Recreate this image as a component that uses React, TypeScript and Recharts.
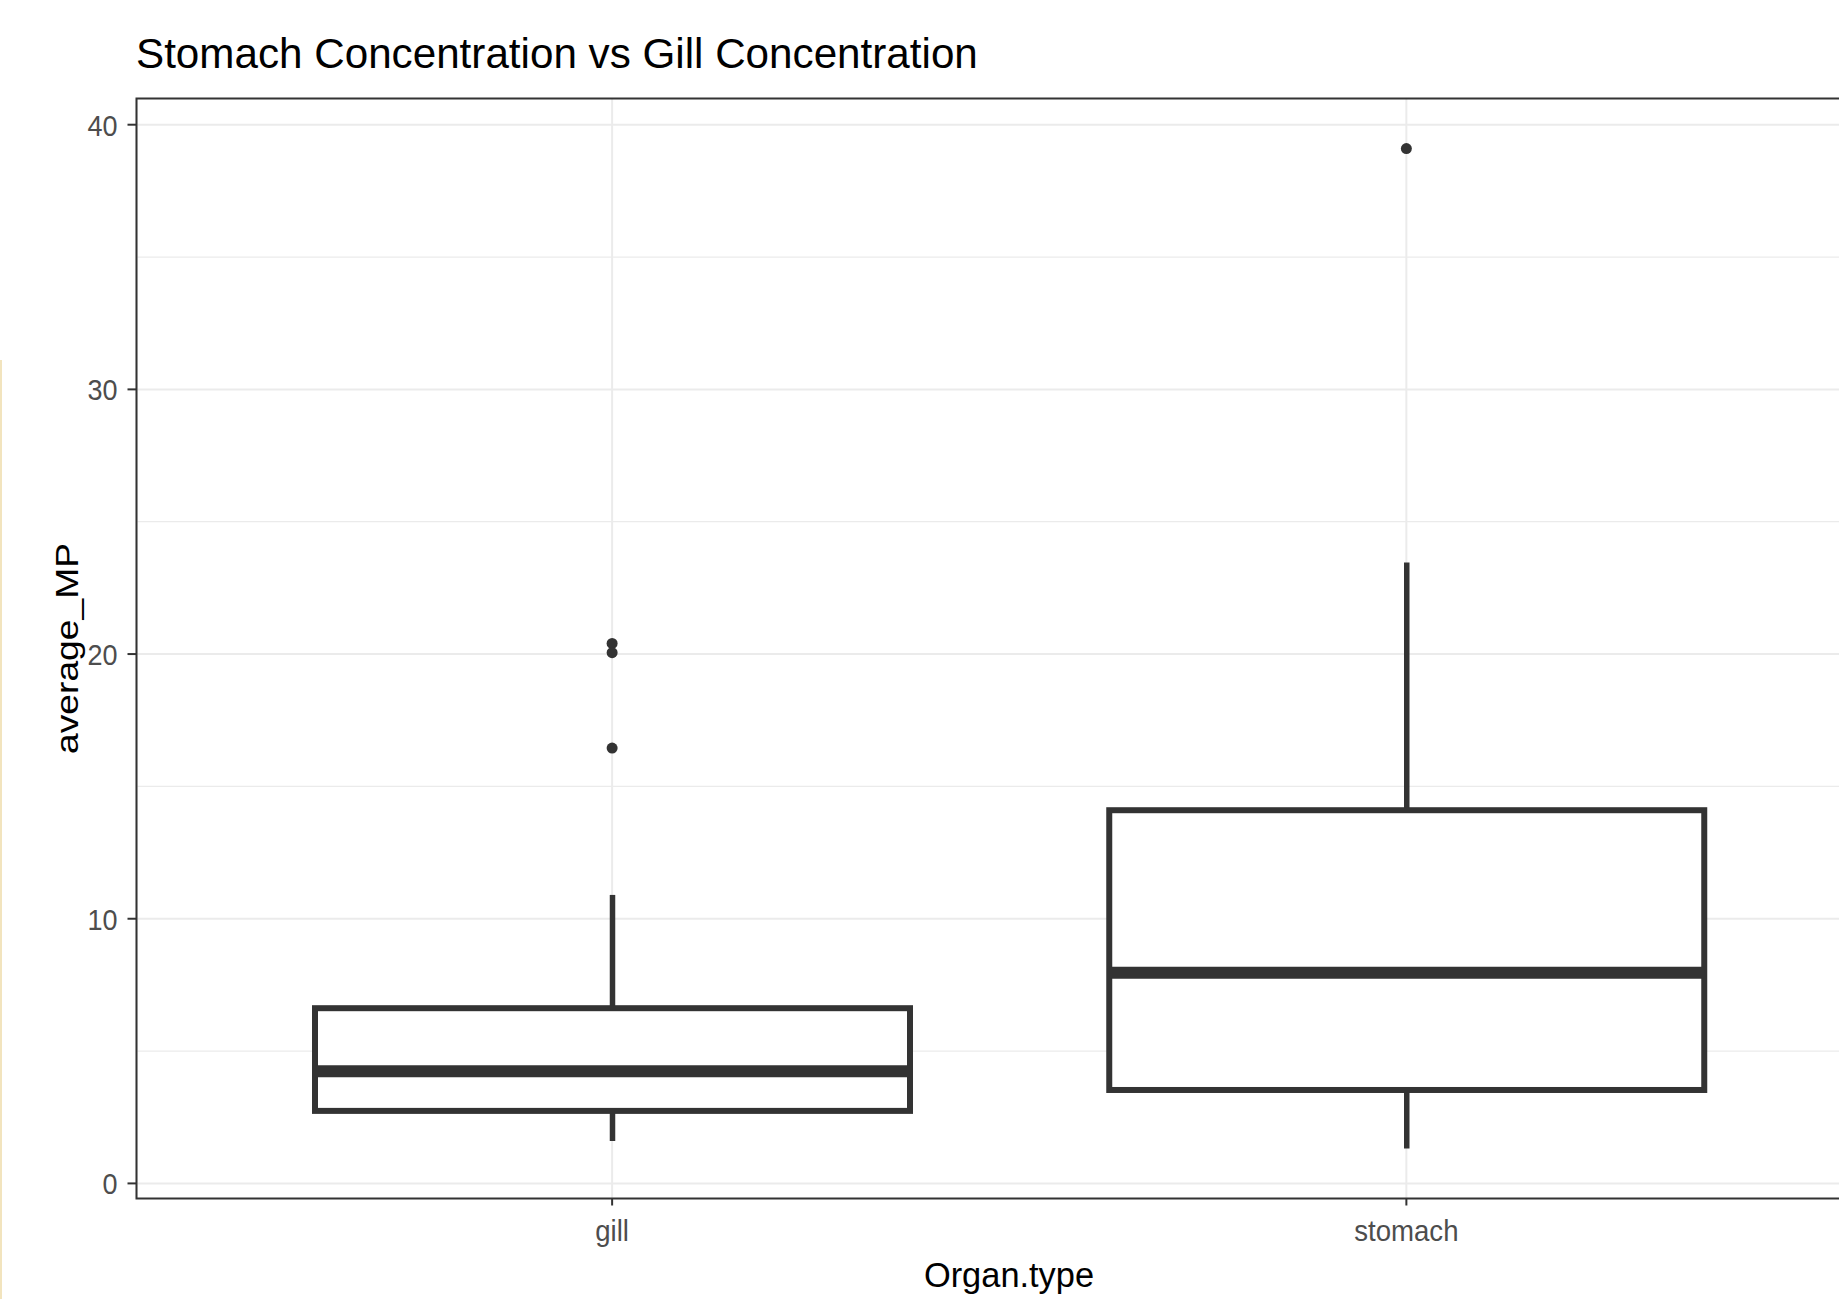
import React from 'react';
import { ComposedChart, Bar, Scatter, XAxis, YAxis, CartesianGrid } from 'recharts';

// box plot statistics
const organs = ['gill', 'stomach'];
const whiskerLow = [1.6, 1.32];
const lowerQuartile = [2.74, 3.53];
const medians = [4.24, 7.96];
const upperQuartile = [6.62, 14.1];
const whiskerHigh = [10.9, 23.46];

const outlierOrgans = ['gill', 'gill', 'gill', 'stomach'];
const outlierValues = [20.4, 20.05, 16.45, 39.1];

const yTicks = [0, 10, 20, 30, 40];
const yMinorTicks = [5, 15, 25, 35];
const yDomain: [number, number] = [-0.57, 40.99];

const FONT = '"Liberation Sans", Arial, sans-serif';
const INK = '#333333';
const GRID = '#EBEBEB';

const boxData = organs.map((organ, i) => ({
  organ,
  low: whiskerLow[i],
  q1: lowerQuartile[i],
  median: medians[i],
  q3: upperQuartile[i],
  high: whiskerHigh[i],
  range: [whiskerLow[i], whiskerHigh[i]],
}));

const outlierData = outlierOrgans.map((organ, i) => ({ organ, value: outlierValues[i] }));

function BoxShape(props: any) {
  const { x, y, width, height, payload } = props;
  const top = Math.min(y, y + height);
  const bottom = Math.max(y, y + height);
  const lo = payload.low;
  const hi = payload.high;
  // position inside the whisker range, same linear scale as the bar
  const py = (v: number) => bottom - ((v - lo) / (hi - lo)) * (bottom - top);
  const cx = x + width / 2;
  const yQ1 = py(payload.q1);
  const yQ3 = py(payload.q3);
  const yMed = py(payload.median);
  return (
    <g>
      <line x1={cx} x2={cx} y1={yQ3} y2={py(hi)} stroke={INK} strokeWidth={5.5} />
      <line x1={cx} x2={cx} y1={yQ1} y2={py(lo)} stroke={INK} strokeWidth={5.5} />
      <rect x={x} y={yQ3} width={width} height={yQ1 - yQ3} fill="#fff" stroke={INK} strokeWidth={6} />
      <line x1={x} x2={x + width} y1={yMed} y2={yMed} stroke={INK} strokeWidth={12} />
    </g>
  );
}

const YTick = (props: any) => {
  const { x, y, payload } = props;
  return (
    <g transform={`translate(${x},${y}) scale(0.9,1)`}>
      <text textAnchor="end" dy="0.36em" fontSize={30} fill="#4D4D4D" fontFamily={FONT}>
        {payload.value}
      </text>
    </g>
  );
};

const XTick = (props: any) => {
  const { x, y, payload } = props;
  return (
    <g transform={`translate(${x},${y}) scale(0.92,1)`}>
      <text textAnchor="middle" dy={36} fontSize={30} fill="#4D4D4D" fontFamily={FONT}>
        {payload.value}
      </text>
    </g>
  );
};

export default function App() {
  return (
    <div
      style={{
        position: 'fixed',
        left: 0,
        top: 0,
        width: 1839,
        height: 1299,
        overflow: 'hidden',
        background: '#fff',
      }}
    >
      <div style={{ position: 'absolute', left: 0, top: 0 }}>
        <ComposedChart
          width={1900}
          height={1299}
          data={boxData}
          margin={{ top: 98.5, right: 18, bottom: 0, left: 0 }}
        >
          <CartesianGrid horizontalValues={yTicks} vertical={true} stroke={GRID} strokeWidth={2} />
          <CartesianGrid horizontalValues={yMinorTicks} vertical={false} stroke={GRID} strokeWidth={1.3} />
          <XAxis
            dataKey="organ"
            type="category"
            allowDuplicatedCategory={false}
            padding={{ left: 78.5, right: 78.5 }}
            height={100.5}
            tickSize={7}
            tickMargin={0}
            tickLine={{ stroke: INK, strokeWidth: 2 }}
            axisLine={false}
            tick={<XTick />}
          />
          <YAxis
            type="number"
            domain={yDomain}
            allowDataOverflow
            ticks={yTicks}
            width={136.5}
            tickSize={9}
            tickMargin={10}
            tickLine={{ stroke: INK, strokeWidth: 2 }}
            axisLine={false}
            tick={<YTick />}
          />
          <Bar dataKey="range" barSize={595} shape={<BoxShape />} isAnimationActive={false} />
          <Scatter
            data={outlierData}
            dataKey="value"
            isAnimationActive={false}
            shape={(p: any) => <circle cx={p.cx} cy={p.cy} r={5.5} fill={INK} />}
          />
        </ComposedChart>
      </div>
      <svg
        width={1839}
        height={1299}
        style={{ position: 'absolute', left: 0, top: 0, pointerEvents: 'none' }}
      >
        <rect x={0} y={360} width={2} height={939} fill="#F2E4BE" />
        <rect x={136.5} y={98.5} width={1800} height={1100} fill="none" stroke={INK} strokeWidth={2} />
        <text x={136} y={68} fontSize={42.2} fill="#000" fontFamily={FONT}>
          Stomach Concentration vs Gill Concentration
        </text>
        <text
          transform="translate(78,648.5) rotate(-90) scale(1.2,1)"
          textAnchor="middle"
          fontSize={31}
          fill="#000"
          fontFamily={FONT}
        >
          average_MP
        </text>
        <text x={1009} y={1287} textAnchor="middle" fontSize={34.4} fill="#000" fontFamily={FONT}>
          Organ.type
        </text>
      </svg>
    </div>
  );
}
